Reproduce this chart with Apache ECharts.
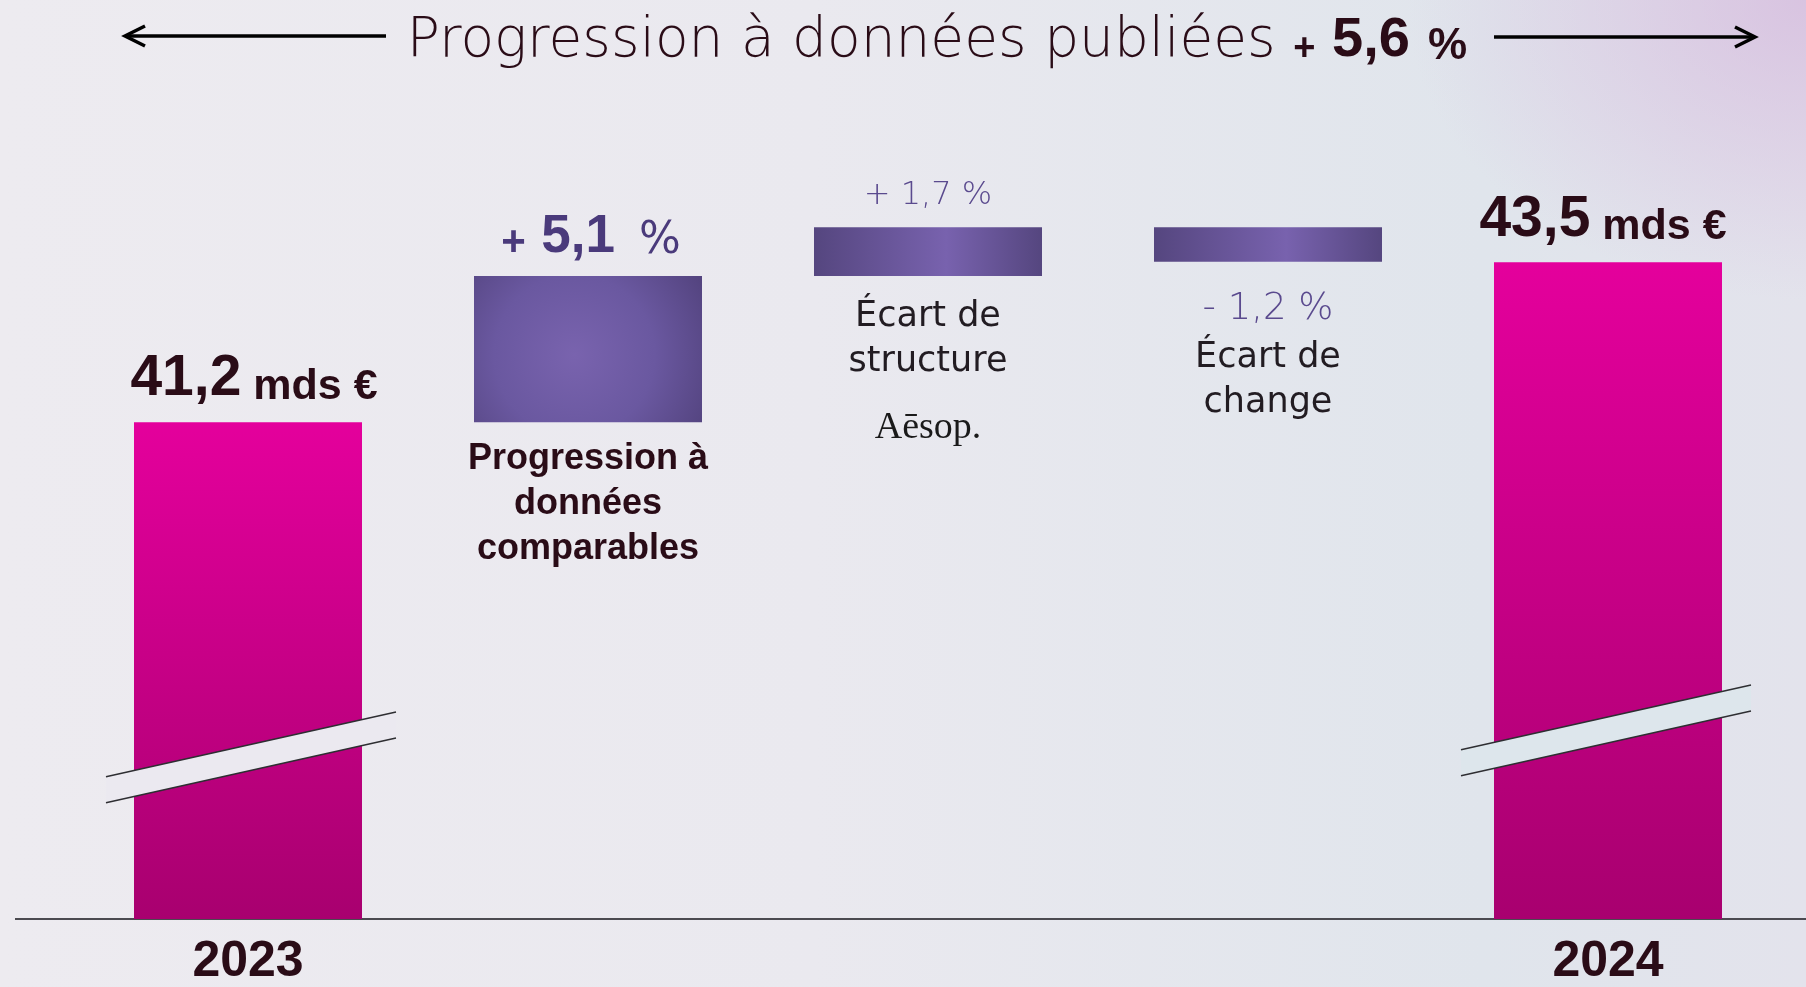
<!DOCTYPE html>
<html>
<head>
<meta charset="utf-8">
<title>Progression à données publiées</title>
<script src="https://cdn.jsdelivr.net/npm/echarts@6/dist/echarts.min.js"></script>
<style>
  html, body { margin: 0; padding: 0; width: 1806px; height: 987px; overflow: hidden; }
  body {
    background:
      radial-gradient(ellipse 400px 300px at 100% 0%, rgba(214, 188, 222, 0.8), rgba(214, 188, 222, 0) 100%),
      linear-gradient(90deg, #edebf0 0%, #eae9ef 45%, #e0e5ec 82%, #e3e3ec 100%);
  }
  #chart { width: 1806px; height: 987px; }
</style>
</head>
<body>
<div id="chart"></div>
<script>
// données
const categories = ['2023', 'Progression à\ndonnées\ncomparables', 'Écart de\nstructure', 'Écart de\nchange', '2024'];
const totals = [41.2, 43.5];        // mds €
const changes = [5.1, 1.7, -1.2];   // % par rapport à 2023
const reported = 5.6;               // % à données publiées
const brand = 'Aēsop';

const fmt = v => v.toFixed(1).replace('.', ',');
const sign = v => (v >= 0 ? '+ ' : '- ');

const DARK = '#2a0c17';
const PURPLE = '#4a3a7b';
const PURPLE_LIGHT = '#5a4a8e';
const THIN = "'DejaVu Sans'";
const BOLD = "'Liberation Sans'";

// waterfall : base transparente + pas visible
const base = ['-'];
const step = ['-'];
const total = [totals[0]];
let level = totals[0];
changes.forEach(p => {
  const d = totals[0] * p / 100;
  const next = level + d;
  base.push(Math.min(level, next));
  step.push(Math.abs(d));
  total.push('-');
  level = next;
});
base.push('-');
step.push('-');
total.push(totals[1]);

const yMin = 34.06, yMax = 46.06;

const pink = new echarts.graphic.LinearGradient(0, 0, 0, 1, [
  { offset: 0, color: '#e4009c' },
  { offset: 1, color: '#a8006f' },
]);
const violetRadial = new echarts.graphic.RadialGradient(0.44, 0.54, 1.0, [
  { offset: 0, color: '#7963ae' },
  { offset: 0.55, color: '#6a58a0' },
  { offset: 1, color: '#544480' },
]);
const violetFlat = new echarts.graphic.LinearGradient(0, 0, 1, 0, [
  { offset: 0, color: '#55467f' },
  { offset: 0.58, color: '#7862ae' },
  { offset: 1, color: '#55467f' },
]);

const nameRich = {
  b: { fontFamily: BOLD, fontWeight: 'bold', fontSize: 36, lineHeight: 45, color: DARK },
  n: { fontFamily: THIN, fontSize: 35, lineHeight: 45, color: '#221c22' },
  v: { fontFamily: THIN, fontWeight: 200, fontSize: 37, lineHeight: 53, color: PURPLE_LIGHT },
  brand: { fontFamily: "'Liberation Serif'", fontSize: 38, lineHeight: 88, color: '#1a1a1a' },
};

function nameLabel(i) {
  const lines = categories[i].split('\n');
  const p = changes[i - 1];
  if (i === 1) return lines.map(l => `{b|${l}}`).join('\n');
  if (i === 2) return lines.map(l => `{n|${l}}`).join('\n') + `\n{brand|${brand}.}`;
  return `{v|${sign(p)}${fmt(Math.abs(p))} %}\n` + lines.map(l => `{n|${l}}`).join('\n');
}

const baseData = base.map((v, i) => {
  if (v === '-') return v;
  return {
    value: v,
    label: { show: true, position: 'insideTop', distance: [14, 18, 21][i - 1], formatter: () => nameLabel(i), rich: nameRich },
  };
});

const stepData = step.map((v, i) => {
  if (v === '-') return v;
  const p = changes[i - 1];
  const item = { value: v, itemStyle: { color: i === 1 ? violetRadial : violetFlat } };
  if (p > 0 && i === 1) {
    item.label = {
      show: true, position: 'top', distance: 12, offset: [3, 0],
      formatter: `{s|+ }{v|${fmt(p)}}{p| %}`,
      rich: {
        s: { fontFamily: BOLD, fontWeight: 'bold', fontSize: 42, lineHeight: 54, verticalAlign: 'bottom', color: PURPLE, padding: [0, 4, 0, 0] },
        v: { fontFamily: BOLD, fontWeight: 'bold', fontSize: 53, lineHeight: 54, verticalAlign: 'bottom', color: PURPLE },
        p: { fontFamily: THIN, fontSize: 44, lineHeight: 52, verticalAlign: 'bottom', color: PURPLE, padding: [0, 0, 0, 10] },
      },
    };
  } else if (p > 0) {
    item.label = {
      show: true, position: 'top', distance: 16,
      formatter: `${sign(p)}${fmt(p)} %`,
      fontFamily: THIN, fontWeight: 200, fontSize: 32, color: PURPLE_LIGHT,
    };
  }
  return item;
});

const totalData = total.map((v, i) => {
  if (v === '-') return v;
  return { value: v, label: i === 0 ? { distance: 14, offset: [6, 0] } : { distance: 13, offset: [-5, 0] } };
});

const chart = echarts.init(document.getElementById('chart'));

chart.setOption({
  backgroundColor: 'transparent',
  animation: false,
  grid: { left: 78, right: 28, top: 84, bottom: 63 },
  xAxis: {
    type: 'category',
    data: categories,
    axisLine: { show: false },
    axisTick: { show: false },
    axisLabel: {
      interval: 0,
      margin: 18,
      formatter: (v, i) => (i === 0 || i === categories.length - 1 ? v : ''),
      fontFamily: BOLD, fontWeight: 'bold', fontSize: 50, lineHeight: 50, color: DARK,
    },
  },
  yAxis: { type: 'value', min: yMin, max: yMax, show: false },
  series: [
    {
      name: 'base', type: 'bar', stack: 'w', barWidth: 228, silent: true,
      itemStyle: { color: 'transparent' },
      data: baseData,
    },
    {
      name: 'écart', type: 'bar', stack: 'w', barWidth: 228, silent: true,
      data: stepData,
    },
    {
      name: 'total', type: 'bar', stack: 'w', barWidth: 228, silent: true,
      itemStyle: { color: pink },
      label: {
        show: true, position: 'top',
        formatter: p => `{n|${fmt(p.value)}}{u| mds €}`,
        rich: {
          n: { fontFamily: BOLD, fontWeight: 'bold', fontSize: 57, lineHeight: 57, verticalAlign: 'bottom', color: DARK },
          u: { fontFamily: BOLD, fontWeight: 'bold', fontSize: 43, lineHeight: 46, verticalAlign: 'bottom', color: DARK },
        },
      },
      data: totalData,
    },
  ],
});

// axe, coupures, titre
const yAxisPx = chart.convertToPixel({ yAxisIndex: 0 }, yMin);
const breakLift = [161, 189];
const breakSpan = [[-142, 148], [-147, 143]];
const breakFill = ['#ebe9f0', '#dde6ec'];
const graphics = [
  {
    type: 'line', z: 0,
    shape: { x1: 15, y1: yAxisPx, x2: 1806, y2: yAxisPx },
    style: { stroke: '#4b4a50', lineWidth: 2 },
  },
];

[0, categories.length - 1].forEach((ci, k) => {
  const cx = chart.convertToPixel({ xAxisIndex: 0 }, ci);
  const cy = yAxisPx - breakLift[k];
  const s = 0.2234, half = 13, xl = cx + breakSpan[k][0], xr = cx + breakSpan[k][1];
  const yAt = (x, off) => cy + off - s * (x - cx);
  graphics.push({
    type: 'polygon', z: 100,
    shape: { points: [[xl, yAt(xl, -half)], [xr, yAt(xr, -half)], [xr, yAt(xr, half)], [xl, yAt(xl, half)]] },
    style: { fill: breakFill[k] },
  });
  [-half, half].forEach(off => {
    graphics.push({
      type: 'line', z: 101,
      shape: { x1: xl, y1: yAt(xl, off), x2: xr, y2: yAt(xr, off) },
      style: { stroke: '#2e2e32', lineWidth: 1.5 },
    });
  });
});

graphics.push({
  type: 'text', z: 100, x: 937, y: 39,
  style: {
    text: `{t|Progression à données publiées }{s|+ }{b|${fmt(reported)}}{p| %}`,
    align: 'center', verticalAlign: 'middle',
    rich: {
      t: { fontFamily: THIN, fontWeight: 200, fontSize: 55, lineHeight: 60, verticalAlign: 'bottom', fill: DARK },
      s: { fontFamily: BOLD, fontWeight: 'bold', fontSize: 38, lineHeight: 50, verticalAlign: 'bottom', fill: DARK, padding: [0, 6, 0, 0] },
      b: { fontFamily: BOLD, fontWeight: 'bold', fontSize: 56, lineHeight: 58, verticalAlign: 'bottom', fill: DARK },
      p: { fontFamily: BOLD, fontWeight: 'bold', fontSize: 44, lineHeight: 53, verticalAlign: 'bottom', fill: DARK, padding: [0, 0, 0, 6] },
    },
  },
});

// flèches
const arrowStyle = { stroke: '#000', lineWidth: 3.5, fill: null };
graphics.push(
  { type: 'line', shape: { x1: 386, y1: 36, x2: 126, y2: 36 }, style: arrowStyle },
  { type: 'polyline', shape: { points: [[145, 26], [125, 36], [145, 46]] }, style: arrowStyle },
  { type: 'line', shape: { x1: 1494, y1: 37, x2: 1753, y2: 37 }, style: arrowStyle },
  { type: 'polyline', shape: { points: [[1735, 27], [1755, 37], [1735, 47]] }, style: arrowStyle }
);

chart.setOption({ graphic: graphics });
</script>
</body>
</html>
